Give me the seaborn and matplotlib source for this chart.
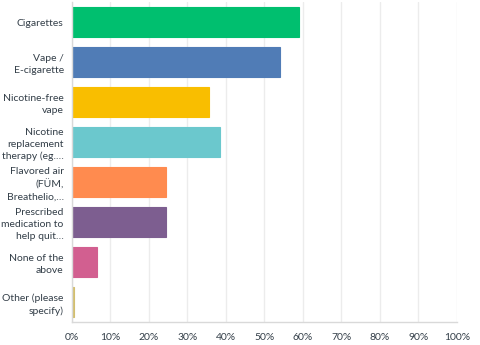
import matplotlib
matplotlib.use("Agg")
import matplotlib.pyplot as plt
import seaborn as sns
import pandas as pd

categories = [
    "Cigarettes",
    "Vape /\nE-cigarette",
    "Nicotine-free\nvape",
    "Nicotine\nreplacement\ntherapy (eg.…",
    "Flavored air\n(FÜM,\nBreathelio,…",
    "Prescribed\nmedication to\nhelp quit…",
    "None of the\nabove",
    "Other (please\nspecify)",
]
values = [58.9, 54.0, 35.5, 38.4, 24.4, 24.3, 6.4, 0.5]
colors = ["#00BF6F", "#507CB6", "#F9BE00", "#6BC8CD", "#FF8B4F", "#7D5E90", "#D25F90", "#D2BE6E"]
tick_vals = [0, 10, 20, 30, 40, 50, 60, 70, 80, 90, 100]
tick_labels = ["0%", "10%", "20%", "30%", "40%", "50%", "60%", "70%", "80%", "90%", "100%"]

sns.set_theme(style="white")
plt.rcParams["font.family"] = ["Lato", "DejaVu Sans"]

df = pd.DataFrame({"cat": categories, "val": values})

fig = plt.figure(figsize=(4.8, 3.45), dpi=100)
ax = fig.add_axes([0.15, 0.0667, 0.802, 0.9273])

sns.barplot(data=df, x="val", y="cat", hue="cat", palette=colors, legend=False,
            orient="h", width=0.73, ax=ax, linewidth=0.8, saturation=1)
for p, c in zip(ax.patches, colors):
    p.set_edgecolor(c)
    p.set_alpha(1)

ax.set_xlim(0, 100)
ax.set_ylim(7.5, -0.5)
ax.set_xticks(tick_vals)
ax.set_xticklabels(tick_labels)
ax.set_xlabel("")
ax.set_ylabel("")
ax.grid(axis="x", color="#ececec", linewidth=1)
ax.set_axisbelow(True)
for s in ["top", "right"]:
    ax.spines[s].set_visible(False)
for s in ["left", "bottom"]:
    ax.spines[s].set_color("#d9d9d9")
    ax.spines[s].set_linewidth(1)
ax.tick_params(axis="both", length=0, labelsize=7.5, labelcolor="#333e48")
ax.tick_params(axis="x", pad=8)
ax.tick_params(axis="y", pad=6)
for t in ax.get_yticklabels():
    t.set_multialignment("right")
    t.set_linespacing(1.4)

fig.savefig("out.png", dpi=100)
